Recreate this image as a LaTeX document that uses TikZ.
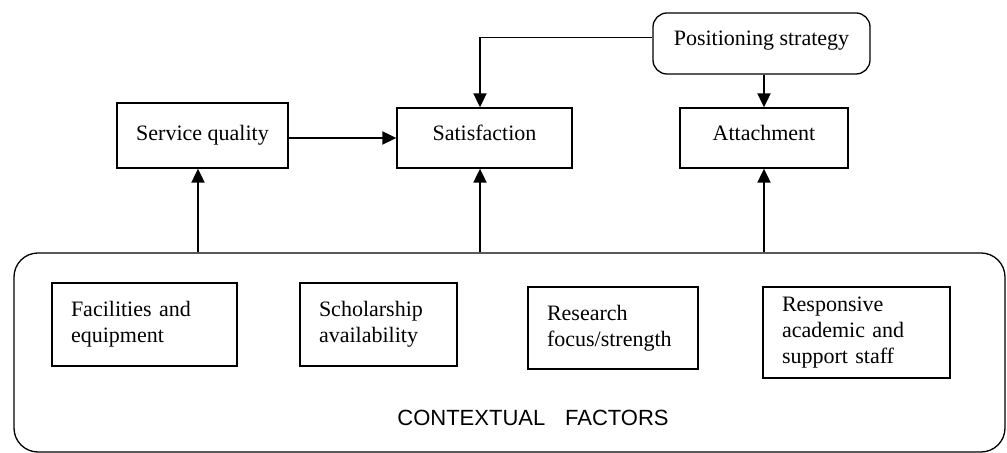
\documentclass[tikz,border=0pt]{standalone}
\usepackage{fontspec}
\setmainfont{Liberation Serif}
\setsansfont{Liberation Sans}
\usetikzlibrary{arrows.meta,positioning}

\begin{document}
\begin{tikzpicture}[x=0.5pt,y=-0.5pt,
  box/.style={draw=black,line width=0.65pt,minimum height=30pt,inner sep=0pt,font=\fontsize{11}{13}\selectfont},
  raised/.style={text height=7.7pt,text depth=5.5pt},
  factor/.style={draw=black,line width=0.65pt,align=left,inner xsep=9.5pt,inner ysep=0pt,font=\fontsize{11}{13}\selectfont},
  arrow/.style={-{Triangle[length=7pt,width=6.5pt]},line width=0.95pt,draw=black},
  note/.style={font=\sffamily\fontsize{11}{13}\selectfont}
]
\useasboundingbox (0,0) rectangle (1007,453);
% contextual frame
\node[draw=black,line width=0.65pt,rounded corners=12pt,minimum width=495.5pt,minimum height=99.5pt] (ctx) at (509.5,352.5) {};
\node[note] (ctxlabel) at (533,418) {CONTEXTUAL\hspace{0.9em}FACTORS};
% factors
\node[factor,text width=73.5pt,minimum height=41.5pt] (facil) at (144.5,324.5) {Facilities and\\equipment};
\node[factor,text width=59.5pt,minimum height=41.5pt] (schol) at (378.5,324.5) {Scholarship\\availability};
\node[factor,text width=66pt,minimum height=41pt] (resrch) at (613,328) {Research\\focus/strength};
\node[factor,text width=74.5pt,minimum height=45.5pt] (staff) at (856.5,332.5) {Responsive\\academic and\\support staff};
% outcomes
\node[box,minimum width=85.5pt,minimum height=32.5pt] (servq) at (202.5,135.5) {Service quality};
\node[box,raised,minimum width=87.5pt] (satis) at (484.5,138) {Satisfaction};
\node[box,raised,minimum width=84pt] (attach) at (764,138) {Attachment};
\node[box,raised,rounded corners=7pt,minimum width=108.5pt,minimum height=30.5pt] (posit) at (761.5,43.5) {Positioning strategy};
% links
\draw[arrow] (servq.east |- satis.west) -- (satis.west);
\draw[arrow] ([yshift=3pt]posit.west) -| ([xshift=-2.25pt]satis.north);
\draw[arrow] (attach.north |- posit.south) -- (attach.north);
\draw[arrow] ([xshift=-2.25pt]servq.south |- ctx.north) -- ([xshift=-2.25pt]servq.south);
\draw[arrow] ([xshift=-2.25pt]satis.south |- ctx.north) -- ([xshift=-2.25pt]satis.south);
\draw[arrow] (attach.south |- ctx.north) -- (attach.south);
\end{tikzpicture}
\end{document}
